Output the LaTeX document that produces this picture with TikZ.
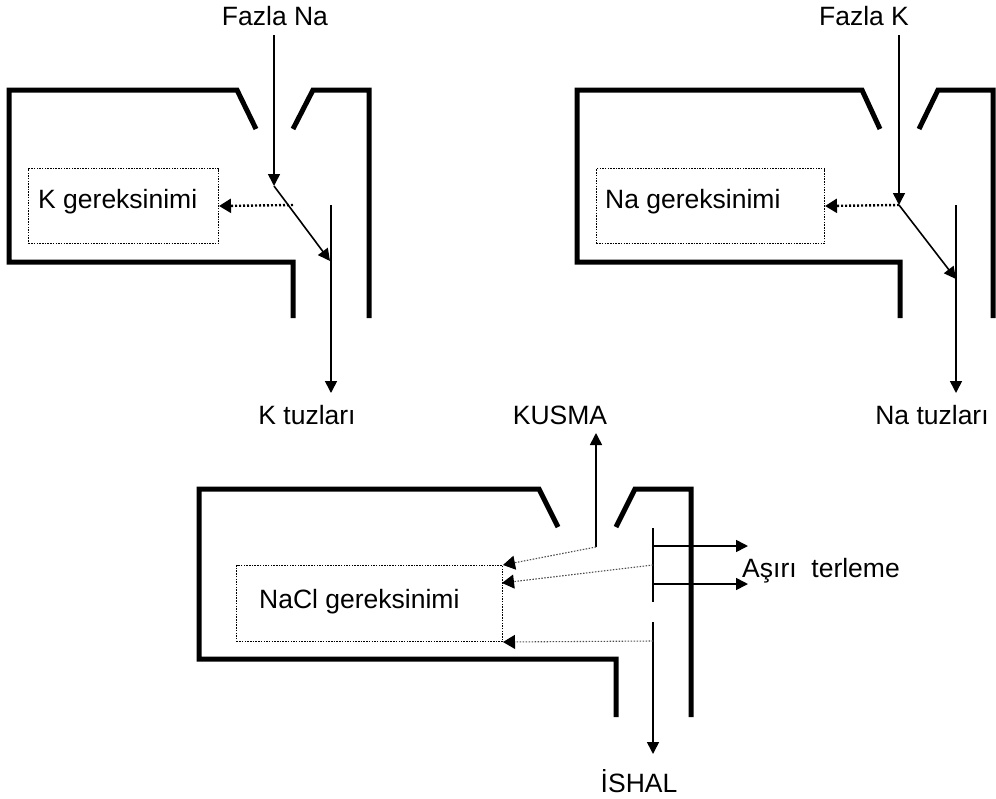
\documentclass[tikz,border=0pt]{standalone}
\usepackage{fontspec}
\setmainfont{Liberation Sans}
\usetikzlibrary{arrows.meta}
\begin{document}
\begin{tikzpicture}[x=1pt,y=-1pt,
  wall/.style={line width=5pt, line join=miter},
  flow/.style={line width=1.6pt, -{Triangle[length=12pt,width=12pt]}},
  bar/.style={line width=2.2pt},
  hint/.style={line width=2.4pt, dash pattern=on 2pt off 2pt, -{Triangle[length=12pt,width=14pt]}},
  thinhint/.style={line width=1.1pt, draw=black!70, dash pattern=on 1.5pt off 1.5pt, -{Triangle[length=12pt,width=14pt,color=black,fill=black]}},
  needbox/.style={draw, line width=1pt, dash pattern=on 1.5pt off 1.2pt, inner sep=0pt, anchor=north west},
  lbl/.style={font=\fontsize{26.5}{30}\selectfont, inner sep=0pt}
]
\useasboundingbox (0,0) rectangle (996,798);

% ---------- top left ----------
\draw[wall] (256,129) -- (237,90) -- (9,90) -- (9,262) -- (293,262) -- (293,318);
\draw[wall] (293,129) -- (313,90) -- (369,90) -- (369,318);
\node[needbox, minimum width=190pt, minimum height=75pt] (kneed) at (28,168) {};
\node[lbl, anchor=base west] (ktext) at (38,208) {K gereksinimi};
\node[lbl, anchor=base] (fna) at (275,25) {Fazla Na};
\node[lbl, anchor=base] (ktz) at (307,424) {K tuzları};
\coordinate (naIn) at (274,35);
\coordinate (naJ) at (274,186);
\coordinate (naHit) at (330,261);
\coordinate (kTop) at (331,205);
\coordinate (kOut) at (331,393);
\coordinate (naSig) at (293,205);
\draw[flow] (naIn) -- (naJ);
\draw[flow] (naJ) -- (naHit);
\draw[flow] (kTop) -- (kOut);
\draw[hint] (naSig) -- (kneed.east);

% ---------- top right ----------
\draw[wall] (880,129) -- (862,90) -- (577,90) -- (577,262) -- (900,262) -- (900,318);
\draw[wall] (919,129) -- (938,90) -- (993,90) -- (993,318);
\node[needbox, minimum width=228pt, minimum height=75pt] (naneed) at (596,168) {};
\node[lbl, anchor=base west] (natext) at (605,208) {Na gereksinimi};
\node[lbl, anchor=base] (fk) at (864,25) {Fazla K};
\node[lbl, anchor=base] (natz) at (932,424) {Na tuzları};
\coordinate (kIn) at (899,35);
\coordinate (kJ) at (899,205);
\coordinate (kHit) at (956,279);
\coordinate (naTop) at (956,205);
\coordinate (naOut) at (956,393);
\draw[flow] (kIn) -- (kJ);
\draw[flow] (kJ) -- (kHit);
\draw[flow] (naTop) -- (naOut);
\draw[hint] (kJ) -- (naneed.east);

% ---------- bottom ----------
\draw[wall] (558,527) -- (539,489) -- (199,489) -- (199,659) -- (616,659) -- (616,717);
\draw[wall] (616,527) -- (635,489) -- (691,489) -- (691,717);
\node[needbox, minimum width=266pt, minimum height=76pt] (naclneed) at (236,565) {};
\node[lbl, anchor=base west] (nacltext) at (259,608) {NaCl gereksinimi};
\node[lbl, anchor=base] (kusma) at (560,424) {KUSMA};
\node[lbl, anchor=base west] (ter) at (742,577) {Aşırı\ \ terleme};
\node[lbl, anchor=base] (ishal) at (639,792) {İSHAL};
\coordinate (vomB) at (596,547);
\coordinate (vomT) at (596,433);
\coordinate (barT) at (653,528);
\coordinate (barB) at (653,602);
\coordinate (barM) at (653,565);
\coordinate (swA) at (653,546);
\coordinate (swAo) at (748,546);
\coordinate (swB) at (653,584);
\coordinate (swBo) at (748,584);
\coordinate (dT) at (653,622);
\coordinate (dB) at (653,754);
\coordinate (dM) at (653,641);
\coordinate (hit2) at (502,583);
\draw[bar] (barT) -- (barB);
\draw[flow] (vomB) -- (vomT);
\draw[flow] (swA) -- (swAo);
\draw[flow] (swB) -- (swBo);
\draw[flow] (dT) -- (dB);
\draw[thinhint] (vomB) -- (naclneed.north east);
\draw[thinhint] (barM) -- (hit2);
\draw[thinhint] (dM) -- (naclneed.south east);
\end{tikzpicture}
\end{document}
